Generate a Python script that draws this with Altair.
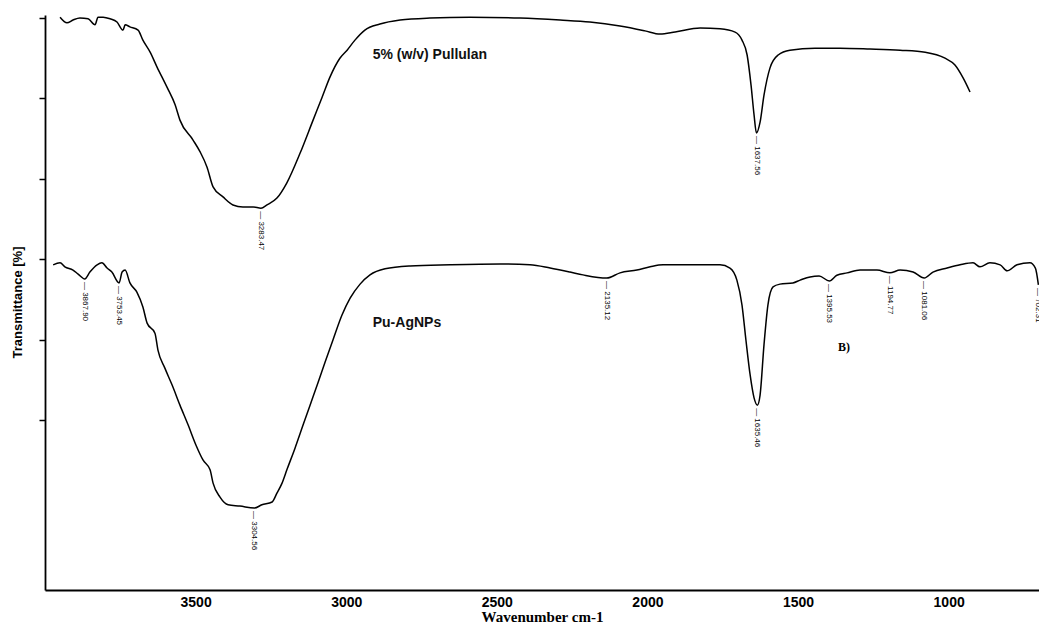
import altair as alt
import pandas as pd

# FTIR spectra: wavenumber (cm-1) and relative transmittance (stacked, arbitrary offset)
pullulan_wn = [3950, 3927, 3907, 3884, 3857, 3834, 3824, 3807, 3784, 3761, 3741, 3734,
               3718, 3691, 3675, 3651, 3628, 3595, 3568, 3552, 3509, 3485, 3462, 3442,
               3409, 3376, 3343, 3309, 3283, 3263, 3230, 3197, 3153, 3110, 3080, 3054,
               3021, 2997, 2971, 2938, 2888, 2821, 2722, 2589, 2423, 2290, 2191, 2091,
               2008, 1958, 1908, 1825, 1759, 1709, 1686, 1669, 1656, 1646, 1638, 1626,
               1613, 1593, 1566, 1527, 1444, 1361, 1261, 1161, 1078, 1012, 979, 952, 929]
pullulan_t = [100.2, 98.8, 99.5, 100.0, 99.8, 98.3, 100.2, 100.2, 99.8, 99.0, 97.0, 98.3,
              97.8, 97.0, 94.5, 91.5, 87.8, 82.8, 78.4, 74.6, 69.7, 66.7, 62.9, 58.0,
              55.5, 53.5, 53.0, 53.0, 52.7, 53.5, 55.2, 59.0, 66.4, 74.6, 80.3, 85.3,
              90.0, 92.0, 94.5, 97.0, 98.5, 99.5, 100.0, 100.2, 100.0, 99.5, 99.0, 98.0,
              96.8, 96.0, 96.5, 97.5, 97.3, 96.5, 94.5, 90.8, 83.3, 75.9, 71.4, 74.1,
              80.8, 87.6, 90.8, 92.0, 92.5, 92.5, 92.3, 92.0, 91.5, 90.0, 88.3, 85.1, 81.6]

agnp_wn = [3973, 3950, 3934, 3907, 3890, 3868, 3851, 3827, 3811, 3794, 3778, 3754,
           3744, 3734, 3718, 3695, 3675, 3661, 3635, 3625, 3602, 3578, 3552, 3525,
           3499, 3475, 3452, 3442, 3419, 3392, 3353, 3305, 3280, 3246, 3230, 3213,
           3197, 3170, 3143, 3120, 3094, 3070, 3044, 3014, 2987, 2954, 2921, 2871,
           2788, 2655, 2489, 2390, 2323, 2257, 2214, 2135, 2091, 2035, 1991, 1948,
           1849, 1759, 1726, 1703, 1686, 1673, 1659, 1646, 1635, 1626, 1613, 1600,
           1583, 1560, 1517, 1493, 1460, 1430, 1396, 1371, 1337, 1294, 1238, 1195,
           1161, 1118, 1081, 1052, 1005, 962, 919, 896, 863, 829, 806, 773, 730, 712, 702]
agnp_t = [38.6, 39.1, 38.1, 37.3, 36.3, 35.1, 36.8, 38.6, 39.1, 37.8, 36.8, 34.1,
          36.8, 37.3, 34.1, 31.8, 28.1, 24.1, 21.6, 17.4, 12.9, 8.7, 3.7, -1.2,
          -6.2, -10.0, -12.4, -15.7, -19.2, -21.1, -21.4, -21.9, -21.1, -20.4, -18.2, -15.7,
          -12.4, -7.0, -1.2, 3.7, 9.2, 14.4, 19.9, 26.1, 30.3, 33.8, 36.1, 37.6,
          38.3, 38.6, 38.8, 38.6, 37.8, 36.8, 36.1, 35.3, 36.6, 37.3, 38.1, 38.6,
          38.6, 38.6, 37.8, 34.8, 28.6, 19.9, 11.2, 5.5, 3.7, 6.2, 18.7, 28.6,
          33.1, 33.8, 34.1, 34.8, 35.6, 35.8, 34.6, 36.0, 36.6, 37.3, 37.3, 36.6,
          37.3, 36.8, 35.3, 36.8, 37.8, 38.6, 39.1, 38.1, 39.1, 38.6, 37.1, 38.6, 39.1, 37.8, 33.6]

# Picked peaks (wavenumber, transmittance at the band minimum)
pullulan_peak_wn = [3283.47, 1637.56]
pullulan_peak_t = [52.7, 71.4]
agnp_peak_wn = [3867.90, 3753.45, 3304.56, 2135.12, 1635.46, 1395.53, 1194.77, 1081.06, 702.31]
agnp_peak_t = [35.1, 34.1, -21.9, 35.3, 3.7, 34.6, 36.6, 35.3, 33.6]

x_ticks = [3500, 3000, 2500, 2000, 1500, 1000]
y_ticks = [0, 20, 40, 60, 80, 100]

# Curve names and their text positions
series_names = ["5% (w/v) Pullulan", "Pu-AgNPs"]
series_label_wn = [2912, 2912]
series_label_t = [90.8, 24.1]
panel_tag = ["B)"]
panel_tag_wn = [1367]
panel_tag_t = [18.2]

rows = []
for i, (w, t) in enumerate(zip(pullulan_wn, pullulan_t)):
    rows.append({"series": "Pullulan", "idx": i, "wn": w, "t": t})
for i, (w, t) in enumerate(zip(agnp_wn, agnp_t)):
    rows.append({"series": "Pu-AgNPs", "idx": i, "wn": w, "t": t})
spectra = pd.DataFrame(rows)

peaks = pd.DataFrame({
    "wn": pullulan_peak_wn + agnp_peak_wn,
    "t": pullulan_peak_t + agnp_peak_t,
})
peaks["label"] = peaks["wn"].map(lambda v: "\u2014 " + f"{v:.2f}")

names = pd.DataFrame({"name": series_names, "wn": series_label_wn, "t": series_label_t})
tag = pd.DataFrame({"name": panel_tag, "wn": panel_tag_wn, "t": panel_tag_t})

x_scale = alt.Scale(domain=[700, 4000], reverse=True, nice=False, zero=False)
y_scale = alt.Scale(domain=[-42.29, 100.75], nice=False, zero=False)

x_axis = alt.Axis(values=x_ticks, format="d", title="Wavenumber cm-1", grid=False, ticks=False,
                  labelFont="Liberation Sans", labelFontWeight="bold", labelFontSize=14,
                  labelColor="black", labelPadding=5, domainColor="black", domainWidth=1.8,
                  titleFont="Liberation Serif", titleFontWeight="bold", titleFontSize=15,
                  titleColor="black", titleY=26, titleBaseline="middle")
y_axis = alt.Axis(values=y_ticks, labels=False, grid=False, tickSize=6, tickWidth=1.5,
                  tickColor="black", domainColor="black", domainWidth=1.8,
                  title="Transmittance [%]", titleFont="Liberation Sans",
                  titleFontWeight="bold", titleFontSize=13, titleColor="black",
                  titleX=-28, titleY=287, titleAlign="center", titleBaseline="middle",
                  titleAngle=-90)

lines = alt.Chart(spectra).mark_line(
    color="black", strokeWidth=1.5, interpolate="monotone"
).encode(
    x=alt.X("wn:Q", scale=x_scale, axis=x_axis),
    y=alt.Y("t:Q", scale=y_scale, axis=y_axis),
    detail="series:N",
    order="idx:Q",
)

peak_text = alt.Chart(peaks).mark_text(
    angle=90, align="left", baseline="middle", dx=3, fontSize=8,
    font="Liberation Sans", color="black",
).encode(
    x=alt.X("wn:Q", scale=x_scale),
    y=alt.Y("t:Q", scale=y_scale),
    text="label:N",
)

name_text = alt.Chart(names).mark_text(
    align="left", baseline="middle", fontSize=14, font="Liberation Sans",
    fontWeight="bold", color="#111111",
).encode(
    x=alt.X("wn:Q", scale=x_scale),
    y=alt.Y("t:Q", scale=y_scale),
    text="name:N",
)

tag_text = alt.Chart(tag).mark_text(
    align="left", baseline="middle", fontSize=12, font="Liberation Serif",
    fontWeight="bold", color="black",
).encode(
    x=alt.X("wn:Q", scale=x_scale),
    y=alt.Y("t:Q", scale=y_scale),
    text="name:N",
)

chart = alt.layer(lines, peak_text, name_text, tag_text).properties(
    width=994, height=575,
    autosize=alt.AutoSizeParams(type="none"),
    padding={"left": 45, "top": 15, "right": 0, "bottom": 33},
).configure_view(stroke=None)

chart.save("out.html", embed_options={"renderer": "svg", "actions": False})
